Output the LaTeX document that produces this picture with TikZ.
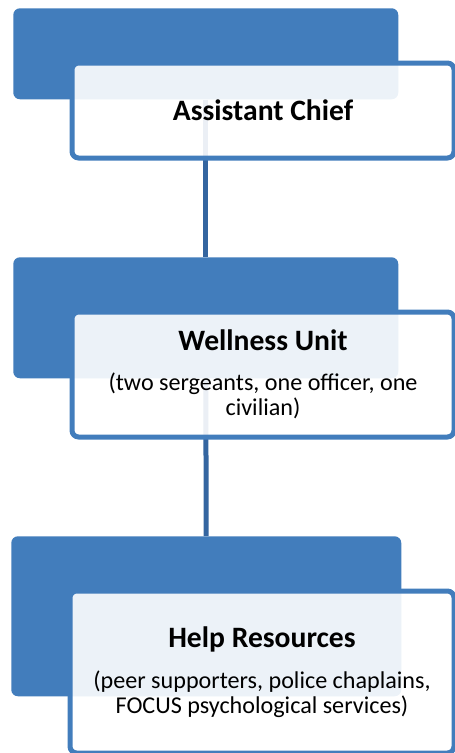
\documentclass[tikz,border=0pt]{standalone}
\usepackage{fontspec}
\setmainfont{Carlito}
\usepackage{tikz}
\usetikzlibrary{positioning}
\definecolor{unitblue}{HTML}{427DBC}
\definecolor{linkblue}{HTML}{3465A0}
\tikzset{
    tab/.style={
           rectangle,
           rounded corners=5pt,
           fill=unitblue,
           anchor=north west,
           inner sep=0pt,
           },
    card/.style={
           rectangle,
           rounded corners=5pt,
           draw=unitblue, line width=3.75pt,
           fill=white, fill opacity=0.9, text opacity=1,
           anchor=north west,
           inner sep=0pt,
           align=center,
           font=\fontsize{18.1}{18.9}\selectfont,
           },
    link/.style={draw=linkblue, line width=3.75pt},
}
\newcommand{\cardtitle}[1]{{\fontsize{22.2}{26}\selectfont\bfseries #1}}

\begin{document}
\begin{tikzpicture}[x=0.75pt,y=-0.75pt]
   \useasboundingbox (0,0) rectangle (454,753);
   \node[tab, minimum width=288.75pt, minimum height=68.25pt] (tab_1) at (13,8) {};
   \node[tab, minimum width=288.75pt, minimum height=90.75pt] (tab_2) at (13,257) {};
   \node[tab, minimum width=292.5pt, minimum height=120pt] (tab_3) at (11,536) {};
    \path
    (tab_1) edge[link] (tab_2)
    (tab_2) edge[link] (tab_3);
   \node[card, minimum width=286.5pt, minimum height=71.25pt] (card_1) at (69.5,60.5)
        {\cardtitle{Assistant Chief}};
   \node[card, minimum width=286.5pt, minimum height=93.75pt] (card_2) at (69.5,309.5)
        {\cardtitle{Wellness Unit}\\[11pt](two sergeants, one officer, one\\civilian)};
   \node[card, minimum width=288pt, minimum height=121.5pt] (card_3) at (67.5,588.5)
        {\cardtitle{Help Resources}\\[12pt](peer supporters, police chaplains,\\FOCUS psychological services)};
\end{tikzpicture}
\end{document}
